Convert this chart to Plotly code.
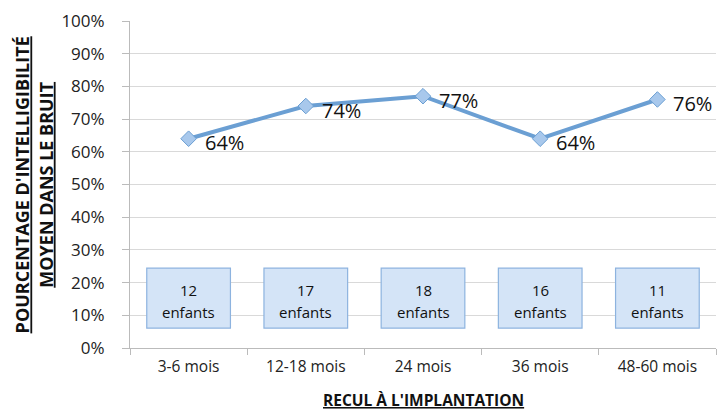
import plotly.graph_objects as go

categories = ["3-6 mois", "12-18 mois", "24 mois", "36 mois", "48-60 mois"]
values = [0.64, 0.74, 0.77, 0.64, 0.76]
labels = ["64%", "74%", "77%", "64%", "76%"]
counts = ["12", "17", "18", "16", "11"]

FONT = "Open Sans"

fig = go.Figure()
fig.add_trace(go.Scatter(
    x=categories, y=values, mode="lines+markers",
    line=dict(color="#6b9fd3", width=4),
    marker=dict(symbol="diamond", size=12, color="#a8c8ec", line=dict(color="#6b9fd3", width=1)),
    cliponaxis=False, showlegend=False, hoverinfo="skip",
))

for cat, v, lab in zip(categories, values, labels):
    fig.add_annotation(x=cat, y=v, xref="x", yref="y", text=lab, showarrow=False,
                       xanchor="left", yanchor="middle", xshift=14, yshift=-4,
                       font=dict(family=FONT, size=20, color="#111111"))

for i, c in enumerate(counts):
    fig.add_shape(type="rect", xref="x", yref="y", x0=i - 0.357, x1=i + 0.357, y0=0.061, y1=0.244,
                  fillcolor="#d4e4f7", line=dict(color="#8db3df", width=1.2), layer="above")
    fig.add_annotation(x=i, y=0.176, xref="x", yref="y", text=c, showarrow=False,
                       font=dict(family=FONT, size=15, color="#111111"))
    fig.add_annotation(x=i, y=0.110, xref="x", yref="y", text="enfants", showarrow=False,
                       font=dict(family=FONT, size=15, color="#111111"))

fig.add_annotation(xref="paper", yref="paper", x=-0.164, y=0.50, xanchor="center", yanchor="middle",
                   textangle=-90, showarrow=False, align="center",
                   text="<b><u>POURCENTAGE D'INTELLIGIBILITÉ</u></b><br><b><u>MOYEN DANS LE BRUIT</u></b>",
                   font=dict(family=FONT, size=18, color="#111111"))
fig.add_annotation(xref="paper", yref="paper", x=0.5, y=-0.159, xanchor="center", yanchor="middle",
                   showarrow=False, text="<b><u>RECUL À L'IMPLANTATION</u></b>",
                   font=dict(family=FONT, size=15.5, color="#111111"))

fig.update_layout(
    width=720, height=410,
    margin=dict(l=130, r=4, t=21, b=62, autoexpand=False),
    paper_bgcolor="white", plot_bgcolor="white",
    font=dict(family=FONT, color="#222222"),
    xaxis=dict(
        type="category", range=[-0.5, 4.5], tickson="boundaries", ticks="outside", ticklen=6, tickcolor="#bbbbbb",
        showgrid=False, showline=True, linecolor="#bbbbbb", linewidth=1, automargin=False,
        tickfont=dict(family=FONT, size=15.5, color="#222222"), ticklabelstandoff=4,
    ),
    yaxis=dict(
        range=[0, 1], dtick=0.1, tickformat=".0%", automargin=False,
        showgrid=True, gridcolor="#d9d9d9", gridwidth=1,
        showline=True, linecolor="#bbbbbb", ticks="outside", ticklen=7, tickcolor="#bbbbbb",
        tickfont=dict(family=FONT, size=17, color="#222222"), ticklabelstandoff=14,
        zeroline=False,
    ),
)

fig.write_html("out.html", config={"displayModeBar": False},
               post_script="document.body.style.margin='0';document.body.style.padding='0';")
